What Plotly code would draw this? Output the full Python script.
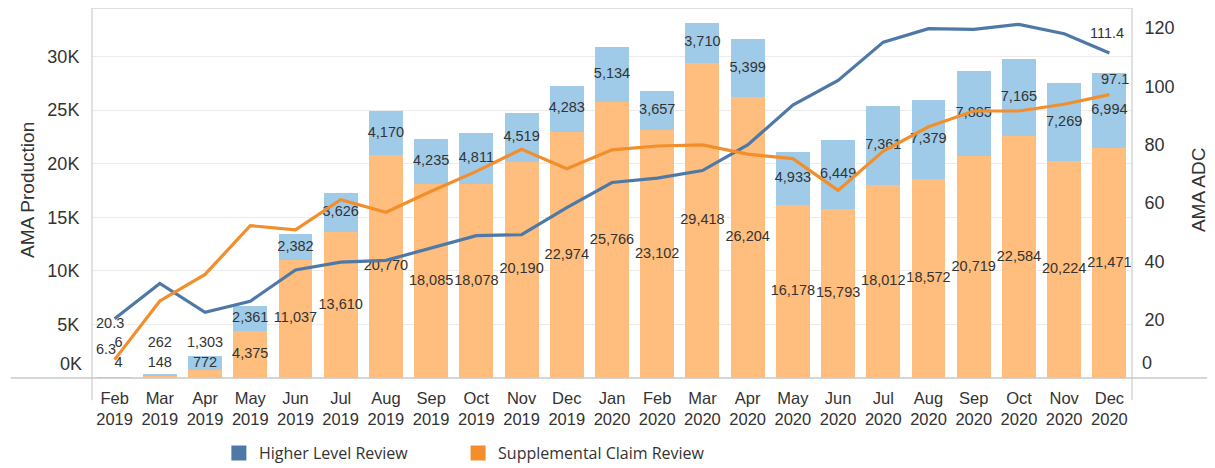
import plotly.graph_objects as go

months = ["Feb", "Mar", "Apr", "May", "Jun", "Jul", "Aug", "Sep", "Oct", "Nov", "Dec",
          "Jan", "Feb", "Mar", "Apr", "May", "Jun", "Jul", "Aug", "Sep", "Oct", "Nov", "Dec"]
years = ["2019"] * 11 + ["2020"] * 12
categories = [f"{m}<br>{y}" for m, y in zip(months, years)]

# AMA Production (bars)
scr_production = [4, 148, 772, 4375, 11037, 13610, 20770, 18085, 18078, 20190, 22974,
                  25766, 23102, 29418, 26204, 16178, 15793, 18012, 18572, 20719, 22584, 20224, 21471]
hlr_production = [6, 262, 1303, 2361, 2382, 3626, 4170, 4235, 4811, 4519, 4283,
                  5134, 3657, 3710, 5399, 4933, 6449, 7361, 7379, 7885, 7165, 7269, 6994]

# AMA ADC (lines)
hlr_adc = [20.3, 32.4, 22.5, 26.3, 37.0, 39.7, 40.3, 44.5, 48.8, 49.1, 58.4,
           67.0, 68.5, 71.1, 79.9, 93.5, 102.0, 115.1, 119.7, 119.5, 121.2, 118.0, 111.4]
scr_adc = [6.3, 26.4, 35.5, 52.2, 50.8, 61.1, 56.8, 64.0, 70.8, 78.4, 71.7,
           78.2, 79.5, 79.9, 76.7, 75.2, 64.3, 77.8, 86.1, 91.5, 91.5, 93.8, 97.1]

left_ticks = [5000, 10000, 15000, 20000, 25000, 30000]
left_ticktext = ["5K", "10K", "15K", "20K", "25K", "30K"]
right_ticks = [20, 40, 60, 80, 100, 120]

BLUE_DARK = "#4e79a7"
ORANGE_DARK = "#f28e2b"
BLUE_LIGHT = "#a0cbe8"
ORANGE_LIGHT = "#ffbe7d"
TXT = "#333333"
AXFONT = "Liberation Sans"
LBL = 14.5

fig = go.Figure()

fig.add_trace(go.Bar(x=categories, y=scr_production, marker=dict(color=ORANGE_LIGHT, line=dict(width=0)),
                     showlegend=False, hoverinfo="skip"))
fig.add_trace(go.Bar(x=categories, y=hlr_production, marker=dict(color=BLUE_LIGHT, line=dict(width=0)),
                     showlegend=False, hoverinfo="skip"))

# segment labels (centered in segment, pushed up when segment too small)
scr_label_y = [max(o / 2, 1400) for o in scr_production]
hlr_label_y = [max(o + b / 2, sy + 1800) for o, b, sy in zip(scr_production, hlr_production, scr_label_y)]
label_pos = ["middle right"] + ["middle center"] * (len(categories) - 1)
fig.add_trace(go.Scatter(x=categories, y=scr_label_y, mode="text",
                         text=[f"{v:,}" for v in scr_production], textposition=label_pos,
                         textfont=dict(family=AXFONT, size=LBL, color=TXT),
                         showlegend=False, hoverinfo="skip", cliponaxis=False))
fig.add_trace(go.Scatter(x=categories, y=hlr_label_y, mode="text",
                         text=[f"{v:,}" for v in hlr_production], textposition=label_pos,
                         textfont=dict(family=AXFONT, size=LBL, color=TXT),
                         showlegend=False, hoverinfo="skip", cliponaxis=False))

fig.add_trace(go.Scatter(x=categories, y=hlr_adc, mode="lines", yaxis="y2",
                         line=dict(color=BLUE_DARK, width=3.2), showlegend=False, hoverinfo="skip"))
fig.add_trace(go.Scatter(x=categories, y=scr_adc, mode="lines", yaxis="y2",
                         line=dict(color=ORANGE_DARK, width=3.2), showlegend=False, hoverinfo="skip"))

# legend entries (one legend each, so they can be placed like the reference)
fig.add_trace(go.Scatter(x=[None], y=[None], mode="markers", name="Higher Level Review", legend="legend",
                         marker=dict(symbol="square", size=15, color=BLUE_DARK)))
fig.add_trace(go.Scatter(x=[None], y=[None], mode="markers", name="Supplemental Claim Review", legend="legend2",
                         marker=dict(symbol="square", size=15, color=ORANGE_DARK)))

annotations = [
    dict(x=categories[0], y=hlr_adc[0], xref="x", yref="y2", text=f"{hlr_adc[0]}", showarrow=False,
         xshift=-5, yshift=-4, font=dict(family=AXFONT, size=LBL, color=TXT)),
    dict(x=categories[0], y=scr_adc[0], xref="x", yref="y2", text=f"{scr_adc[0]}", showarrow=False,
         xshift=-9, yshift=11, font=dict(family=AXFONT, size=LBL, color=TXT)),
    dict(x=categories[-1], y=hlr_adc[-1], xref="x", yref="y2", text=f"{hlr_adc[-1]}", showarrow=False,
         xshift=-2, yshift=20, font=dict(family=AXFONT, size=LBL, color=TXT)),
    dict(x=categories[-1], y=scr_adc[-1], xref="x", yref="y2", text=f"{scr_adc[-1]}", showarrow=False,
         xshift=6, yshift=16, font=dict(family=AXFONT, size=LBL, color=TXT)),
    # shifted zero labels
    dict(x=0, y=0, xref="paper", yref="y", text="0K", showarrow=False, xanchor="right",
         xshift=-8, yshift=14, font=dict(family=AXFONT, size=18, color=TXT)),
    dict(x=1, y=0, xref="paper", yref="y2", text="0", showarrow=False, xanchor="left",
         xshift=8, yshift=15, font=dict(family=AXFONT, size=18, color=TXT)),
    # axis titles
    dict(x=-0.0625, y=0.508, xref="paper", yref="paper", text="AMA Production", textangle=-90,
         xanchor="center", yanchor="middle",
         showarrow=False, font=dict(family=AXFONT, size=19, color=TXT)),
    dict(x=1.0635, y=0.508, xref="paper", yref="paper", text="AMA ADC", textangle=-90,
         xanchor="center", yanchor="middle",
         showarrow=False, font=dict(family=AXFONT, size=19, color=TXT)),
]

shapes = [
    dict(type="line", xref="paper", yref="paper", x0=0, x1=1, y0=1, y1=1, line=dict(color="#d6d6d6", width=1.5)),
    dict(type="line", xref="paper", yref="paper", x0=0, x1=0, y0=-0.06, y1=1, line=dict(color="#d6d6d6", width=1.5)),
    dict(type="line", xref="paper", yref="paper", x0=1, x1=1, y0=-0.06, y1=1, line=dict(color="#d6d6d6", width=1.5)),
    dict(type="line", xref="paper", yref="paper", x0=-0.078, x1=1.08, y0=0, y1=0, line=dict(color="#c8c8c8", width=1.5)),
]

legend_style = dict(orientation="h", y=-0.203, yanchor="middle", xanchor="left",
                    font=dict(family="Open Sans", size=16, color=TXT), bgcolor="rgba(0,0,0,0)")

# the page body adds an 8px margin, so the figure is 8px smaller on each axis
fig.update_layout(
    width=1207, height=460,
    margin=dict(l=84, r=83, t=0, b=90, autoexpand=False),
    paper_bgcolor="white", plot_bgcolor="white",
    barmode="stack", bargap=0.25,
    font=dict(family=AXFONT, color=TXT),
    xaxis=dict(range=[-0.5, 22.5], showgrid=False, zeroline=False, showline=False, automargin=False,
               tickfont=dict(family=AXFONT, size=16.5, color=TXT), tickangle=0,
               ticks="outside", ticklen=5, tickcolor="rgba(0,0,0,0)"),
    yaxis=dict(range=[0, 34520], tickvals=left_ticks, ticktext=left_ticktext, automargin=False,
               showgrid=True, gridcolor="#ececec", gridwidth=1, zeroline=False, showline=False,
               tickfont=dict(family=AXFONT, size=18, color=TXT),
               ticks="outside", ticklen=8, tickcolor="rgba(0,0,0,0)"),
    yaxis2=dict(range=[0, 126.8], tickvals=right_ticks, overlaying="y", side="right", automargin=False,
                showgrid=False, zeroline=False, showline=False,
                tickfont=dict(family=AXFONT, size=18, color=TXT),
                ticks="outside", ticklen=8, tickcolor="rgba(0,0,0,0)"),
    legend=dict(x=0.122, **legend_style),
    legend2=dict(x=0.352, **legend_style),
    annotations=annotations,
    shapes=shapes,
)

fig.write_html("out.html")
